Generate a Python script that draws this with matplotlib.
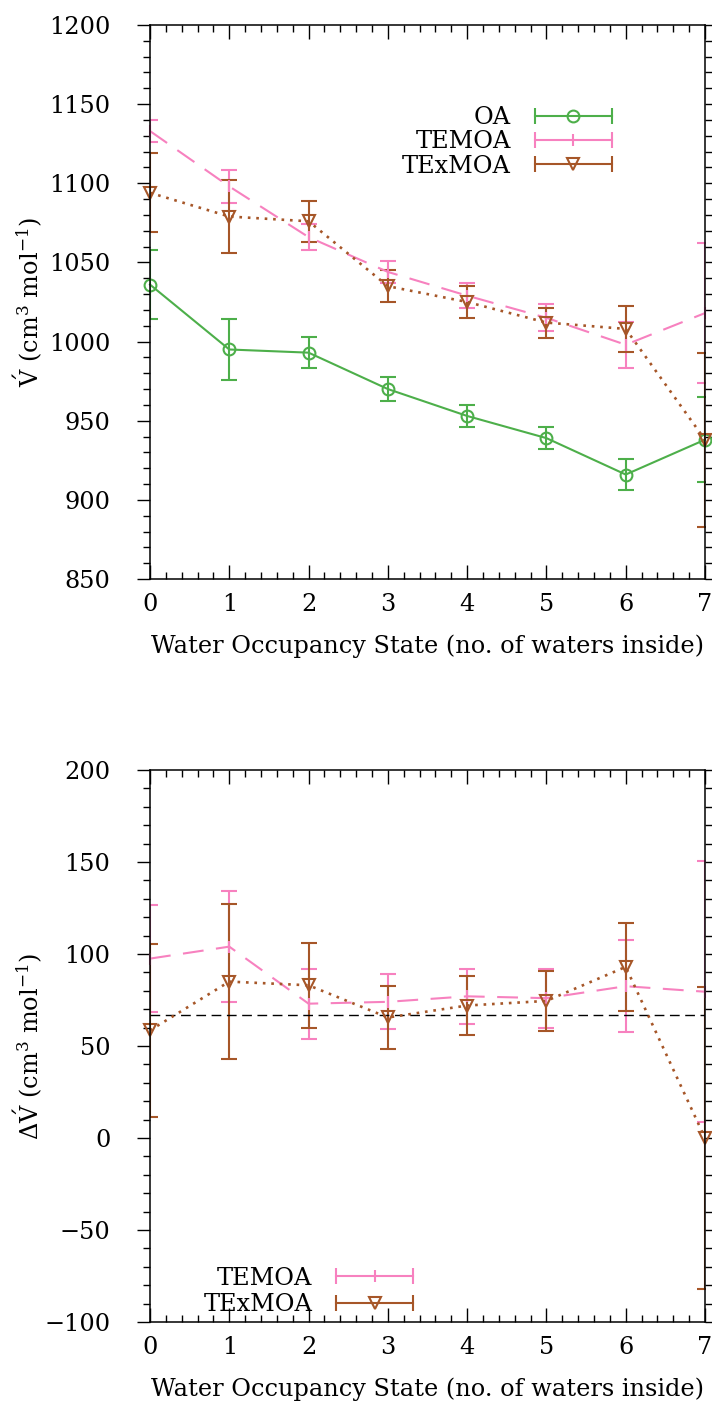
#!/usr/bin/env python3
"""
Partial molar volume of the host per water occupancy state (two panels).
"""

import matplotlib
matplotlib.use("Agg")
import matplotlib.pyplot as plt
from matplotlib.legend_handler import HandlerBase
from matplotlib.lines import Line2D
from matplotlib.ticker import MultipleLocator

# Water occupancy states
states = [0, 1, 2, 3, 4, 5, 6, 7]

# Top panel: V' (cm^3 mol^-1)
oa_v = [1036, 995, 993, 970, 953, 939, 916, 938]
oa_err = [22, 19, 10, 7.5, 7, 7, 10, 27]
temoa_v = [1133, 1098, 1066, 1044, 1029, 1015, 998, 1018]
temoa_err = [7, 10.5, 8, 7, 8, 8.5, 14.5, 44]
texmoa_v = [1094, 1079, 1076, 1035, 1025, 1012, 1008, 938]
texmoa_err = [25, 23, 13, 10, 10, 9.5, 14.5, 55]

# Bottom panel: delta V' relative to OA
dtemoa_v = [97.5, 104, 73, 74, 77, 76, 82.5, 79.5]
dtemoa_err = [29, 30, 19, 15, 15, 16, 25, 71]
dtexmoa_v = [58.5, 85, 83, 65.5, 72, 74.5, 93, 0]
dtexmoa_err = [47, 42, 23, 17, 16, 16.5, 24, 82]
ref_dv = 67

GREEN = "#4daf4a"
PINK = "#f781bf"
BROWN = "#a65628"

DASHED = (0, (10, 6))
DOTTED = (0, (1, 2.2))

plt.rcParams["font.family"] = ["DejaVu Serif"]
plt.rcParams["mathtext.fontset"] = "dejavuserif"
plt.rcParams["font.size"] = 17.3


class ErrKeyHandler(HandlerBase):
    """gnuplot-style errorbar key: horizontal bar with end caps and a marker."""

    def create_artists(self, legend, orig_handle, xdescent, ydescent,
                       width, height, fontsize, trans):
        y = height / 2 - ydescent
        x0 = -xdescent
        x1 = x0 + width
        color = orig_handle.get_color()
        bar = Line2D([x0, x1], [y, y], color=color, lw=1.5,
                     marker="|", markersize=12, markeredgewidth=1.5)
        mark = Line2D([(x0 + x1) / 2], [y], color=color, lw=0,
                      marker=orig_handle.get_marker(),
                      markersize=orig_handle.get_markersize(),
                      markeredgewidth=1.5, markerfacecolor="none")
        bar.set_transform(trans)
        mark.set_transform(trans)
        return [bar, mark]


def draw_series(ax, y, err, color, ls, lw, marker, ms):
    cont = ax.errorbar(states, y, yerr=err, color=color, ls=ls, lw=lw,
                       marker=marker, ms=ms, mfc="none", mew=1.5,
                       capsize=5.5, capthick=1.5, elinewidth=1.5)
    cont[0].set_clip_on(False)
    return cont[0]


def style_axes(ax, ymin, ymax):
    ax.set_xlim(0, 7)
    ax.set_ylim(ymin, ymax)
    ax.xaxis.set_major_locator(MultipleLocator(1))
    ax.xaxis.set_minor_locator(MultipleLocator(0.2))
    ax.yaxis.set_major_locator(MultipleLocator(50))
    ax.yaxis.set_minor_locator(MultipleLocator(10))
    ax.tick_params(axis="x", which="both", direction="in", top=True,
                   bottom=True, width=1)
    ax.tick_params(axis="y", which="both", direction="out", left=True,
                   right=True, width=1)
    ax.tick_params(axis="x", which="major", length=10, pad=10)
    ax.tick_params(axis="x", which="minor", length=5)
    ax.tick_params(axis="y", which="major", length=9.5, pad=19)
    ax.tick_params(axis="y", which="minor", length=5)
    for sp in ax.spines.values():
        sp.set_linewidth(1.1)
    ax.set_xlabel("Water Occupancy State (no. of waters inside)")
    ax.xaxis.set_label_coords(0.5, -0.1)
    ax.yaxis.set_label_coords(-0.19, 0.5)


fig = plt.figure(figsize=(7.12, 14.01), dpi=100)
ax1 = fig.add_axes([150 / 712, 1 - 579 / 1401, 555 / 712, 554 / 1401])
ax2 = fig.add_axes([150 / 712, 1 - 1322 / 1401, 555 / 712, 552 / 1401])

# Top panel
h_oa = draw_series(ax1, oa_v, oa_err, GREEN, "-", 1.5, "o", 8.5)
h_te = draw_series(ax1, temoa_v, temoa_err, PINK, DASHED, 1.5, "|", 8)
h_tx = draw_series(ax1, texmoa_v, texmoa_err, BROWN, DOTTED, 1.9, "v", 8.5)
style_axes(ax1, 850, 1200)
ax1.set_ylabel(r"$\acute{\mathrm{V}}$ (cm$^3$ mol$^{-1}$)")
ax1.legend([h_oa, h_te, h_tx], ["OA", "TEMOA", "TExMOA"],
           handler_map={Line2D: ErrKeyHandler()}, loc="center right",
           bbox_to_anchor=(0.832, 0.789), frameon=False, markerfirst=False,
           alignment="right", borderpad=0, borderaxespad=0,
           labelspacing=0.05, handlelength=3.2, handletextpad=1.0)

# Bottom panel
d_te = draw_series(ax2, dtemoa_v, dtemoa_err, PINK, DASHED, 1.5, "|", 8)
d_tx = draw_series(ax2, dtexmoa_v, dtexmoa_err, BROWN, DOTTED, 1.9, "v", 8.5)
ax2.axhline(ref_dv, color="black", lw=1, ls=(0, (7, 4)))
style_axes(ax2, -100, 200)
ax2.set_ylabel(r"$\Delta\acute{\mathrm{V}}$ (cm$^3$ mol$^{-1}$)")
ax2.legend([d_te, d_tx], ["TEMOA", "TExMOA"],
           handler_map={Line2D: ErrKeyHandler()}, loc="center right",
           bbox_to_anchor=(0.474, 0.055), frameon=False, markerfirst=False,
           alignment="right", borderpad=0, borderaxespad=0,
           labelspacing=0.15, handlelength=3.2, handletextpad=1.0)

fig.savefig("out.png", dpi=100)
